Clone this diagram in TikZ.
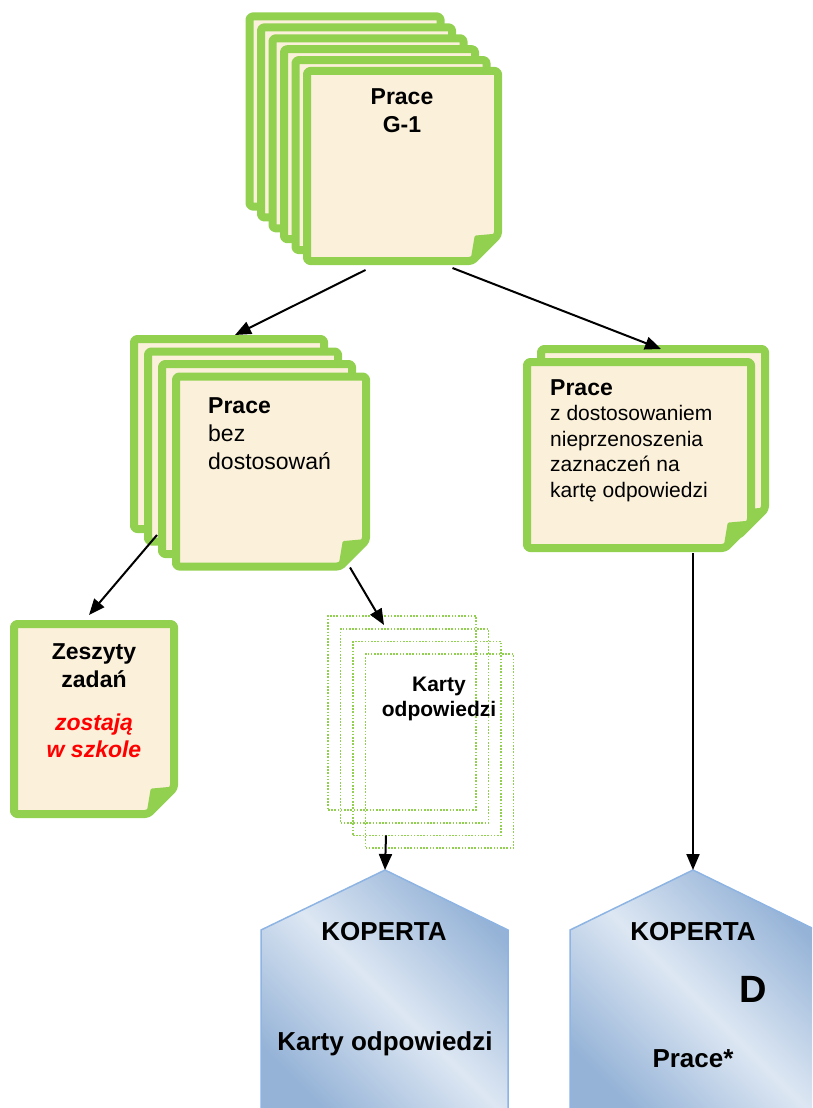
\documentclass[tikz,border=0pt]{standalone}
\usepackage{fontspec}
\setmainfont{Liberation Sans}
\usetikzlibrary{arrows.meta}
\definecolor{leafGreen}{HTML}{92D050}
\definecolor{paperCream}{HTML}{FBF0DA}
\definecolor{envDark}{HTML}{95B3D7}
\definecolor{envLight}{HTML}{DDE7F3}
\definecolor{envEdge}{HTML}{8EB4E3}
% sheet outline with the folded corner, drawn round a named node
\newcommand{\sheet}[1]{%
  \path[sheetDecorate] (#1.north west) -- (#1.north east) -- ([yshift=26pt]#1.south east) -- ([xshift=-26pt]#1.south east) -- (#1.south west) -- cycle;
  \path[foldDecorate] ([yshift=26pt]#1.south east) -- ([xshift=-26pt]#1.south east) -- ([xshift=-22pt,yshift=24pt]#1.south east) -- cycle;}

\begin{document}
\begin{tikzpicture}
[x=1pt,y=-1pt,
 boxDecorate/.style={shape=rectangle, inner sep=0pt, outer sep=0pt},
 sheetDecorate/.style={draw=leafGreen, line width=8pt, fill=paperCream, rounded corners=3pt, line join=round},
 foldDecorate/.style={fill=leafGreen, draw=leafGreen, line width=3pt, line join=round},
 ghostDecorate/.style={draw=leafGreen, line width=1.6pt, dash pattern=on 1.6pt off 1.6pt, minimum width=148pt, minimum height=194pt, inner sep=0pt, outer sep=0pt},
 envDecorate/.style={draw=envEdge, line width=1.5pt, top color=envDark, bottom color=envDark, middle color=envLight, shading angle=-45},
 lineDecorate/.style={-{Triangle[length=16pt,width=13pt]}, line width=2pt},
 boldText/.style={font=\bfseries\fontsize{23}{28}\selectfont, inner sep=0pt},
 plainText/.style={font=\fontsize{23}{28}\selectfont, inner sep=0pt}]

 \useasboundingbox (0,0) rectangle (812,1108);
 \clip (0,0) rectangle (812,1108);

 % Prace G-1
 \foreach \i in {0,...,5}
 {
          \node (G\i) at (345+11.5*\i, 111.5+10.9*\i) [boxDecorate, minimum width=191pt, minimum height=190pt] {};
          \sheet{G\i}
 }
 \node (tG) at (402,88) [boldText, align=center, anchor=north] {Prace\\G-1};

 % bez dostosowan
 \foreach \i in {0,...,3}
 {
          \node (B\i) at (229+14*\i, 434+12.5*\i) [boxDecorate, minimum width=190pt, minimum height=190pt] {};
          \sheet{B\i}
 }
 \node (tB) at (208,397) [plainText, align=left, anchor=north west] {\textbf{Prace}\\bez\\dostosowań};

 % z dostosowaniem
 \foreach \i in {0,1}
 {
          \node (S\i) at (653-14*\i, 442+13*\i) [boxDecorate, minimum width=224pt, minimum height=186pt] {};
          \sheet{S\i}
 }
 \node (tS) at (550,379) [plainText, font=\fontsize{21}{25.5}\selectfont, align=left, anchor=north west] {{\bfseries\fontsize{23}{25.5}\selectfont Prace}\\z dostosowaniem\\nieprzenoszenia\\zaznaczeń na\\kartę odpowiedzi};

 % zeszyty
 \node (Zes) at (94,719) [boxDecorate, minimum width=160pt, minimum height=190pt] {};
 \sheet{Zes}
 \node (tZes) at (94,643) [boldText, align=center, anchor=north] {Zeszyty\\zadań};
 \node (tZesR) at (94,714) [boldText, font=\bfseries\itshape\fontsize{23}{27}\selectfont, text=red, align=center, anchor=north] {zostają\\w szkole};

 % karty odpowiedzi
 \foreach \i in {0,...,3}
 {
          \node (K\i) at (402+12.5*\i, 713+12.7*\i) [ghostDecorate] {};
 }
 \node (tK) at (439,677) [boldText, font=\bfseries\fontsize{21}{25}\selectfont, align=center, anchor=north] {Karty\\odpowiedzi};

 % koperty
 \coordinate (kopL) at (385,870);
 \coordinate (kopR) at (693,870);
 \path[envDecorate] (kopL) -- (508,930) -- (508,1120) -- (261,1120) -- (261,930) -- cycle;
 \path[envDecorate] (kopR) -- (816,930) -- (816,1120) -- (570,1120) -- (570,930) -- cycle;
 \node (kL1) at (384,940) [boldText, font=\bfseries\fontsize{26}{30}\selectfont, anchor=base] {KOPERTA};
 \node (kL2) at (385,1050) [boldText, font=\bfseries\fontsize{26}{30}\selectfont, anchor=base] {Karty odpowiedzi};
 \node (kR1) at (693,940) [boldText, font=\bfseries\fontsize{26}{30}\selectfont, anchor=base] {KOPERTA};
 \node (kR2) at (753,1002) [boldText, font=\bfseries\fontsize{38}{40}\selectfont, anchor=base] {D};
 \node (kR3) at (693,1067) [boldText, font=\bfseries\fontsize{26}{30}\selectfont, anchor=base] {Prace*};

 \draw[lineDecorate] ([xshift=-37pt,yshift=-9pt]G5.south) -- ([xshift=6pt,yshift=4pt]B0.north);
 \draw[lineDecorate] ([xshift=50pt,yshift=-7pt]G5.south) -- ([xshift=8pt]S0.north);
 \draw[lineDecorate] ([xshift=-5pt,yshift=-76pt]B2.west) -- ([xshift=-5pt,yshift=9pt]Zes.north);
 \draw[lineDecorate] ([xshift=79pt,yshift=-1pt]B3.south) -- ([xshift=-18pt,yshift=-9pt]K0.north);
 \draw[lineDecorate] ([xshift=-41pt]K2.south) -- (kopL);
 \draw[lineDecorate] ([xshift=54pt,yshift=-5pt]S1.south) -- (kopR);
\end{tikzpicture}
\end{document}
